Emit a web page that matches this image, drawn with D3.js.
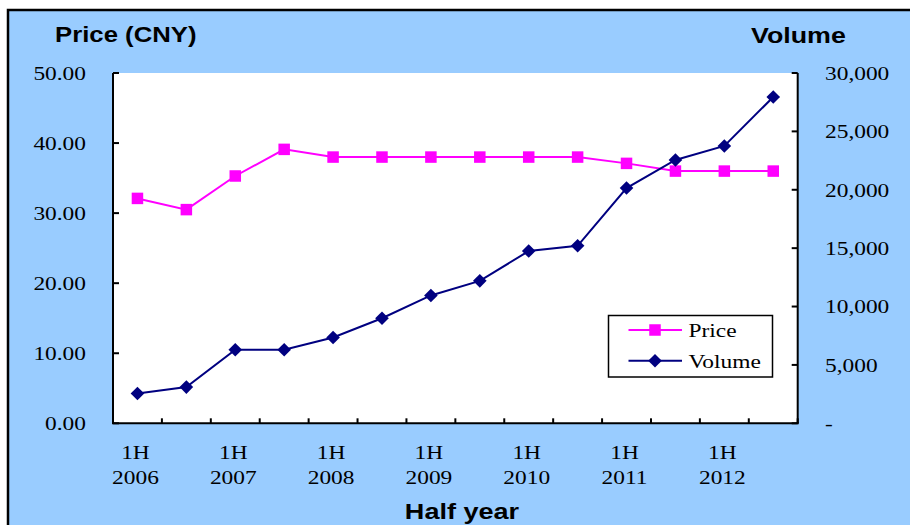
<!DOCTYPE html>
<html>
<head>
<meta charset="utf-8">
<script src="https://cdn.jsdelivr.net/npm/d3@7"></script>
<style>
  html, body { margin: 0; padding: 0; background: #ffffff; }
  svg { display: block; }
</style>
</head>
<body>
<svg id="chart" width="910" height="525"></svg>
<script>
// ---- data ----
const categories = ["1H 2006","2H 2006","1H 2007","2H 2007","1H 2008","2H 2008","1H 2009",
                    "2H 2009","1H 2010","2H 2010","1H 2011","2H 2011","1H 2012","2H 2012"];
const priceValues  = [32.1, 30.5, 35.3, 39.1, 38, 38, 38, 38, 38, 38, 37.1, 36, 36, 36];
const volumeValues = [2550, 3100, 6300, 6300, 7350, 9000, 10950, 12200, 14750, 15200, 20150, 22550, 23750, 27950];
const priceTicks  = [0, 10, 20, 30, 40, 50];
const volumeTicks = [0, 5000, 10000, 15000, 20000, 25000, 30000];
const seriesNames = ["Price", "Volume"];
const leftTitle = "Price (CNY)";
const rightTitle = "Volume";
const xTitle = "Half year";

// ---- layout ----
const svg = d3.select("#chart");
const plot = { left: 113, right: 797.7, top: 73, bottom: 423.3 };
const SERIF = "'Liberation Serif','Times New Roman',serif";
const SANS = "'Liberation Sans',Arial,sans-serif";
const serifSize = 19.5, serifScale = 1.2;
const sansSize = 22, sansScale = 1.17;

const x = d3.scaleBand().domain(categories).range([plot.left, plot.right]).paddingInner(0).paddingOuter(0);
const cx = c => x(c) + x.bandwidth() / 2;
const yP = d3.scaleLinear().domain([0, 50]).range([plot.bottom, plot.top]);
const yV = d3.scaleLinear().domain([0, 30000]).range([plot.bottom, plot.top]);

function stretchedText(g, tx, ty, str, opts) {
  const gg = g.append("g").attr("transform", `translate(${tx},${ty}) scale(${opts.scale},1)`);
  return gg.append("text")
    .attr("x", 0).attr("y", 0)
    .attr("text-anchor", opts.anchor || "start")
    .attr("font-family", opts.family)
    .attr("font-size", opts.size)
    .attr("font-weight", opts.weight || "normal")
    .attr("fill", "#000")
    .text(str);
}

// background
svg.append("rect").attr("x", 8).attr("y", 10).attr("width", 920).attr("height", 530)
  .attr("fill", "#99CCFF").attr("stroke", "#000").attr("stroke-width", 2.5);

// plot area
svg.append("rect").attr("x", plot.left).attr("y", plot.top)
  .attr("width", plot.right - plot.left).attr("height", plot.bottom - plot.top)
  .attr("fill", "#ffffff");

const axes = svg.append("g").attr("stroke", "#000").attr("stroke-width", 2).attr("fill", "none");
// axis lines
axes.append("line").attr("x1", plot.left).attr("x2", plot.left).attr("y1", plot.top).attr("y2", plot.bottom);
axes.append("line").attr("x1", plot.right).attr("x2", plot.right).attr("y1", plot.top).attr("y2", plot.bottom);
axes.append("line").attr("x1", plot.left - 1).attr("x2", plot.right + 1).attr("y1", plot.bottom).attr("y2", plot.bottom);

// left ticks (inward)
priceTicks.forEach(t => {
  axes.append("line").attr("x1", plot.left).attr("x2", plot.left + 6).attr("y1", yP(t)).attr("y2", yP(t));
});
// right ticks (inward)
volumeTicks.forEach(t => {
  axes.append("line").attr("x1", plot.right - 6).attr("x2", plot.right).attr("y1", yV(t)).attr("y2", yV(t));
});
// x ticks at band boundaries (inward)
const boundaries = categories.map(c => x(c)).concat([x(categories[categories.length - 1]) + x.bandwidth()]);
boundaries.forEach(b => {
  axes.append("line").attr("x1", b).attr("x2", b).attr("y1", plot.bottom - 5).attr("y2", plot.bottom);
});

const labels = svg.append("g");
// left tick labels
const fmtP = d3.format(".2f");
priceTicks.forEach(t => {
  stretchedText(labels, 86, yP(t) + 6.8, fmtP(t), { family: SERIF, size: serifSize, scale: serifScale, anchor: "end" });
});
// right tick labels
const fmtV = d3.format(",");
volumeTicks.forEach(t => {
  stretchedText(labels, 825, yV(t) + 6.8, t === 0 ? "-" : fmtV(t), { family: SERIF, size: serifSize, scale: serifScale, anchor: "start" });
});
// x tick labels (only first halves)
categories.forEach(c => {
  const parts = c.split(" ");
  if (parts[0] !== "1H") return;
  stretchedText(labels, cx(c) - 2, 459, parts[0], { family: SERIF, size: serifSize, scale: serifScale, anchor: "middle" });
  stretchedText(labels, cx(c) - 2, 484, parts[1], { family: SERIF, size: serifSize, scale: serifScale, anchor: "middle" });
});

// titles
stretchedText(labels, 55, 42.3, leftTitle, { family: SANS, size: sansSize, scale: sansScale, weight: "bold" });
stretchedText(labels, 751, 42.7, rightTitle, { family: SANS, size: sansSize, scale: 1.22, weight: "bold" });
stretchedText(labels, 462, 519, xTitle, { family: SANS, size: sansSize, scale: 1.23, weight: "bold", anchor: "middle" });

// series
const priceColor = "#FF00FF", volColor = "#000080";
const lineP = d3.line().x((d, i) => cx(categories[i])).y(d => yP(d));
const lineV = d3.line().x((d, i) => cx(categories[i])).y(d => yV(d));

svg.append("path").datum(priceValues).attr("d", lineP)
  .attr("fill", "none").attr("stroke", priceColor).attr("stroke-width", 2);
svg.append("path").datum(volumeValues).attr("d", lineV)
  .attr("fill", "none").attr("stroke", volColor).attr("stroke-width", 2);

const sq = 11.5, dm = 6.8;
svg.append("g").selectAll("rect").data(priceValues).join("rect")
  .attr("x", (d, i) => cx(categories[i]) - sq / 2)
  .attr("y", d => yP(d) - sq / 2)
  .attr("width", sq).attr("height", sq).attr("fill", priceColor);

const diamond = (px, py) => `M${px},${py - dm}L${px + dm},${py}L${px},${py + dm}L${px - dm},${py}Z`;
svg.append("g").selectAll("path").data(volumeValues).join("path")
  .attr("d", (d, i) => diamond(cx(categories[i]), yV(d)))
  .attr("fill", volColor);

// legend
const lg = svg.append("g");
lg.append("rect").attr("x", 608.5).attr("y", 315.5).attr("width", 164).attr("height", 61.5)
  .attr("fill", "#fff").attr("stroke", "#000").attr("stroke-width", 1.5);
const legendRows = [
  { name: seriesNames[0], color: priceColor, y: 330, shape: "square" },
  { name: seriesNames[1], color: volColor, y: 360.7, shape: "diamond" }
];
legendRows.forEach(r => {
  lg.append("line").attr("x1", 628.5).attr("x2", 682).attr("y1", r.y).attr("y2", r.y)
    .attr("stroke", r.color).attr("stroke-width", 2);
  if (r.shape === "square") {
    lg.append("rect").attr("x", 655 - sq / 2).attr("y", r.y - sq / 2).attr("width", sq).attr("height", sq).attr("fill", r.color);
  } else {
    lg.append("path").attr("d", diamond(655, r.y)).attr("fill", r.color);
  }
  stretchedText(lg, 688.5, r.y + 7, r.name, { family: SERIF, size: serifSize, scale: serifScale });
});
</script>
</body>
</html>
